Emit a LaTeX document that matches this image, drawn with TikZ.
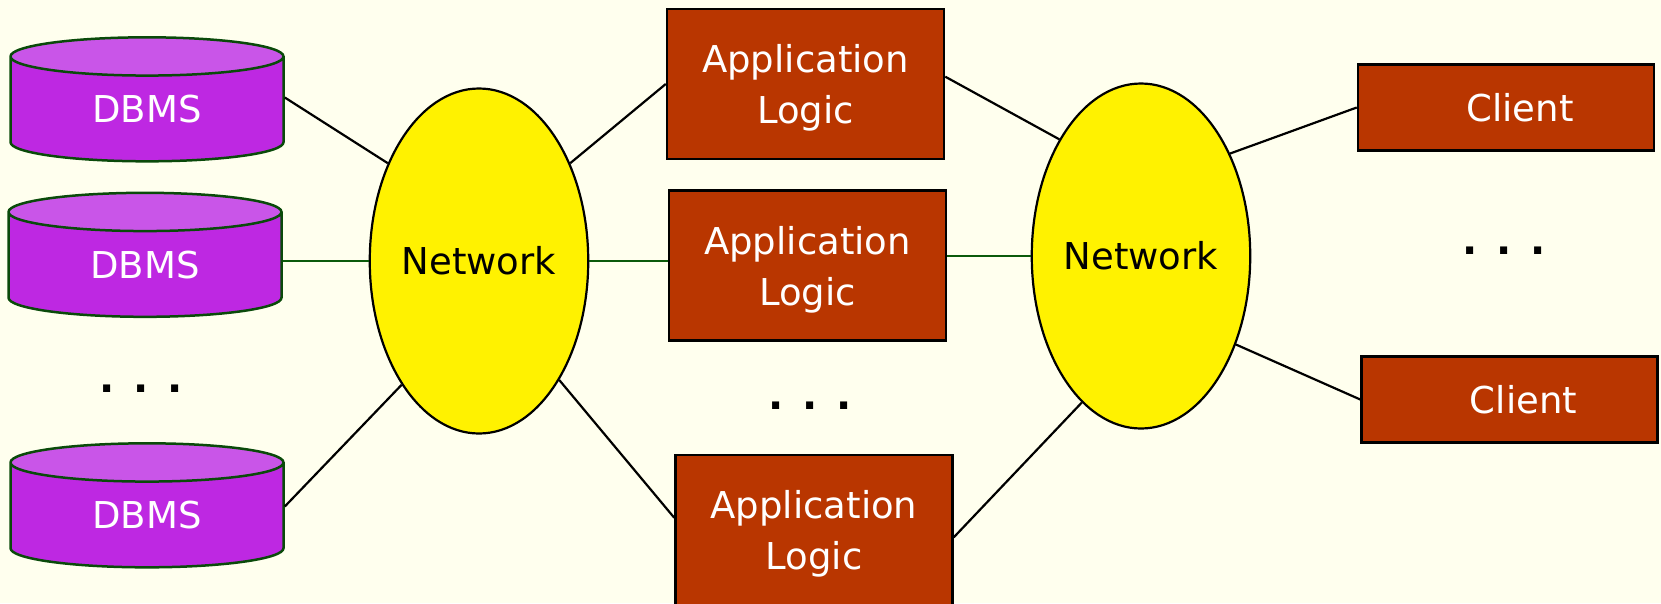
\documentclass[tikz,border=0pt]{standalone}
\usepackage{fontspec}
\setmainfont{DejaVu Sans}
\usetikzlibrary{shapes.geometric}

\definecolor{bgivory}{HTML}{FFFFEE}
\definecolor{dbpurple}{HTML}{BE28E2}
\definecolor{dbtop}{HTML}{C955E8}
\definecolor{dbedge}{HTML}{0A4A0A}
\definecolor{rust}{HTML}{B93600}
\definecolor{linkgreen}{HTML}{0B5A0B}

\begin{document}
\begin{tikzpicture}[x=1pt, y=-1pt,
        bigtext/.style={font=\fontsize{37}{51}\selectfont},
        dbms/.style={bigtext, cylinder, shape border rotate=90, aspect=0.35,
            draw=dbedge, line width=2.5pt, cylinder uses custom fill,
            cylinder body fill=dbpurple, cylinder end fill=dbtop,
            minimum width=273pt, minimum height=124pt, inner sep=0pt, text=white},
        net/.style={bigtext, ellipse, draw, line width=2.2pt, fill=yellow,
            minimum width=211pt, minimum height=345pt, inner sep=0pt},
        appbox/.style={bigtext, rectangle, draw, line width=2.5pt, fill=rust,
            text=white, align=center, text depth=0pt,
            minimum width=277pt, minimum height=150pt},
        clientbox/.style={bigtext, rectangle, draw, line width=2.5pt, fill=rust,
            text=white, minimum width=296pt, minimum height=86pt},
        dots/.style={font=\fontsize{40}{40}\selectfont\bfseries, inner sep=0pt},
        link/.style={line width=2.2pt},
        flatlink/.style={line width=2.2pt, draw=linkgreen}
    ]
    \fill[bgivory] (0, 0) rectangle (1661, 603);
    \useasboundingbox (0, 0) rectangle (1661, 603);

    % database servers
    \node[dbms] (db1) at (147, 109.5) {DBMS};
    \node[dbms] (db2) at (145, 265) {DBMS};
    \node[dbms] (db3) at (147, 515.5) {DBMS};
    \node[dots] (dbdots) at (141, 389) {.\hspace{19pt}.\hspace{19pt}.};

    % networks
    \node[net] (net1) at (479, 261) {Network};
    \node[net] (net2) at (1141, 256) {Network};

    % application servers
    \node[appbox] (app1) at (805.5, 84) {Application\\Logic};
    \node[appbox] (app2) at (807.5, 265.5) {Application\\Logic};
    \node[appbox] (app3) at (814, 530) {Application\\Logic};
    \node[dots] (appdots) at (810, 406) {.\hspace{19pt}.\hspace{19pt}.};

    % clients
    \node[clientbox] (cl1) at (1506, 107.5) {\hspace*{28pt}Client};
    \node[clientbox] (cl2) at (1509.5, 399.5) {\hspace*{28pt}Client};
    \node[dots] (cldots) at (1504, 251) {.\hspace{19pt}.\hspace{19pt}.};

    \draw[link] ([yshift=12pt]db1.east) -- (net1.133);
    \draw[flatlink] (net1.west) -- (net1.west -| db2.east);
    \draw[link] ([yshift=9pt]db3.east) -- (net1.238);

    \draw[link] (net1.47) -- (app1.west);
    \draw[flatlink] (net1.east) -- (net1.east -| app2.west);
    \draw[link] (net1.304) -- (app3.175);

    \draw[link] (app1.3) -- (net2.125);
    \draw[flatlink] (net2.west) -- (net2.west -| app2.east);
    \draw[link] (app3.357) -- (net2.248);

    \draw[link] (net2.49) -- (cl1.west);
    \draw[link] (net2.317) -- (cl2.west);
\end{tikzpicture}
\end{document}
